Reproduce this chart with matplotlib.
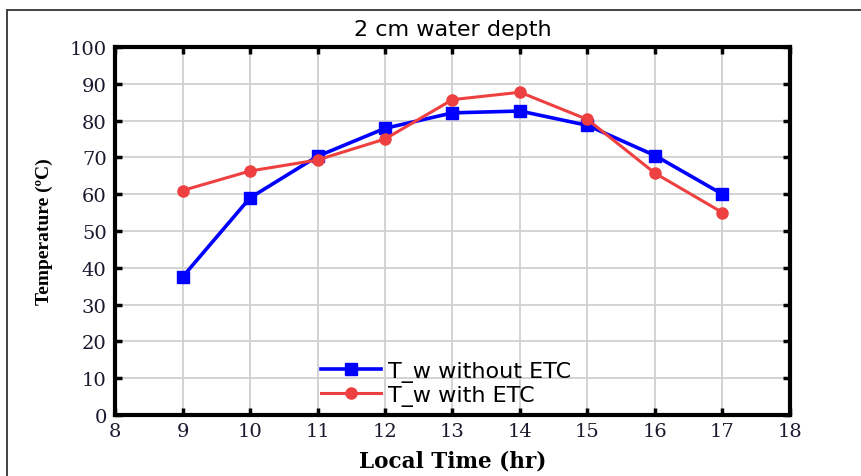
import numpy as np
import matplotlib.pyplot as plt
from matplotlib.patches import Rectangle

# datos
hora = [9, 10, 11, 12, 13, 14, 15, 16, 17]
tw_sin_etc = [37.5, 59.0, 70.3, 77.9, 82.1, 82.6, 78.7, 70.5, 60.0]
tw_con_etc = [61.0, 66.3, 69.3, 75.0, 85.7, 87.7, 80.3, 65.7, 55.0]

xticks = [8, 9, 10, 11, 12, 13, 14, 15, 16, 17, 18]
yticks = [0, 10, 20, 30, 40, 50, 60, 70, 80, 90, 100]

fig = plt.figure(figsize=(8.62, 4.77), dpi=100)
ax = fig.add_axes([115/862, 1 - 416/477, 675/862, 368/477])

# marco exterior (recortado a derecha y abajo)
fig.patches.append(Rectangle((7/862, -0.1), 1.2, 1 - 11/477 + 0.1, transform=fig.transFigure,
                             fill=False, edgecolor="#333333", linewidth=1.3))

ax.plot(hora, tw_sin_etc, color="#0000ff", linewidth=2.6, marker="s", markersize=8,
        label="T_w without ETC", zorder=3)
ax.plot(hora, tw_con_etc, color="#ee4040", linewidth=2.2, marker="o", markersize=8,
        label="T_w with ETC", zorder=4)

ax.set_xlim(8, 18)
ax.set_ylim(0, 100)
ax.set_xticks(xticks)
ax.set_yticks(yticks)
ax.grid(True, color="#d0d0d0", linewidth=1.3)
ax.set_axisbelow(True)

for s in ax.spines.values():
    s.set_linewidth(3)
ax.tick_params(direction="in", length=5, width=2.5, top=True, right=True, labelsize=14)
ax.tick_params(axis="x", pad=5)
ax.tick_params(axis="y", pad=6)
for lab in ax.get_xticklabels() + ax.get_yticklabels():
    lab.set_family("DejaVu Serif")
    lab.set_color("#1a1a2e")

ax.set_title("2 cm water depth", fontsize=16, family="DejaVu Sans", pad=9)
ax.set_xlabel("Local Time (hr)", fontsize=15.5, family="DejaVu Serif", weight="bold", labelpad=7)
ax.set_ylabel("Temperature (ºC)", fontsize=14, family="Liberation Serif", weight="bold", labelpad=12)

leg = ax.legend(loc="lower left", bbox_to_anchor=(0.282, -0.018), frameon=False,
                prop={"family": "DejaVu Sans", "size": 16}, handlelength=2.7,
                handletextpad=0.3, labelspacing=0.15, borderpad=0.2)

fig.savefig("out.png", dpi=100)
